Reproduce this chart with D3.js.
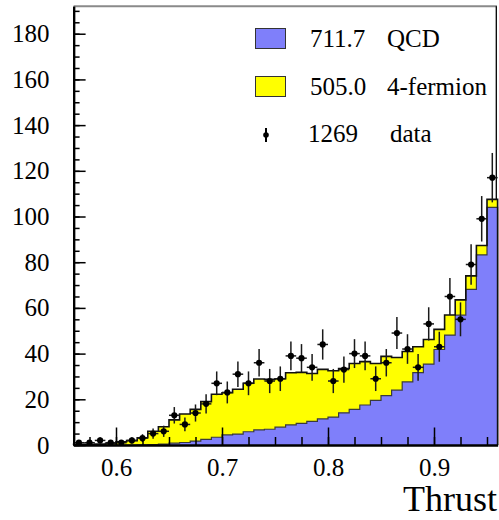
<!DOCTYPE html>
<html>
<head>
<meta charset="utf-8">
<script src="https://cdn.jsdelivr.net/npm/d3@7"></script>
<style>
  html, body { margin: 0; padding: 0; background: #fff; }
  svg { display: block; }
</style>
</head>
<body>
<svg id="chart" width="499" height="520"></svg>
<script>
// Thrust distribution: stacked MC (QCD + 4-fermion) against data, 0.01-wide bins from 0.56 to 0.96
const binStart = 0.56;
const binWidth = 0.01;

// QCD expectation per bin
const qcd = [
  0, 0, 0, 0, 0, 0, 0.1, 0.2, 0.4, 0.8,
  1.1, 1.7, 2.5, 3.4, 4.4, 4.8, 5.8, 6.6, 6.9, 7.8,
  8.8, 9.5, 10.3, 11.4, 12.2, 14.1, 15.6, 17.5, 19.5, 21.6,
  24.0, 27.6, 31.7, 35.4, 41.8, 48.1, 56.8, 68.1, 83.2, 104.0
];

// 4-fermion expectation per bin
const fourFermion = [
  0.3, 0.3, 0.4, 0.6, 1.4, 1.9, 3.1, 5.8, 7.6, 10.2,
  12.5, 13.9, 16.5, 18.8, 18.5, 19.6, 21.2, 22.3, 21.8, 21.2,
  22.8, 22.3, 21.0, 21.7, 20.3, 19.4, 20.1, 19.0, 16.2, 17.2,
  14.3, 13.3, 11.3, 10.8, 8.8, 8.8, 6.7, 5.9, 4.1, 3.5
];

// observed events per bin
const dataCounts = [
  1, 1, 2, 1, 1, 2, 3, 5, 6, 13,
  9, 14, 18, 27, 23, 31, 27, 36, 28, 29,
  39, 38, 34, 44, 28, 33, 40, 39, 29, 36,
  49, 42, 34, 53, 43, 65, 55, 79, 99, 117
];

const xTicksMajor = [0.6, 0.7, 0.8, 0.9];
const xTicksMinor = [0.575, 0.6, 0.625, 0.65, 0.675, 0.7, 0.725, 0.75, 0.775, 0.8,
                     0.825, 0.85, 0.875, 0.9, 0.925, 0.95];
const yTicksMajor = [0, 20, 40, 60, 80, 100, 120, 140, 160, 180];
const yTicksMinor = d3.range(0, 191, 5);

const legendEntries = [
  { kind: "box", color: "#7f7ffa", value: "711.7", label: "QCD" },
  { kind: "box", color: "#ffff00", value: "505.0", label: "4-fermion" },
  { kind: "marker", value: "1269", label: "data" }
];

const serif = "'Liberation Serif', 'Times New Roman', serif";
const blue = "#7f7ffa";
const yellow = "#ffff00";

const svg = d3.select("#chart");

const x = d3.scaleLinear().domain([0.56, 0.96]).range([73.6, 497.6]);
const y = d3.scaleLinear().domain([0, 192]).range([445, 6.3]);

// bins with stacked values
const bins = qcd.map((q, i) => ({
  lo: binStart + i * binWidth,
  hi: binStart + (i + 1) * binWidth,
  qcd: q,
  total: q + fourFermion[i],
  n: dataCounts[i]
}));

// frame (drawn first so the histograms sit on top)
svg.append("line")
  .attr("x1", x(0.56)).attr("x2", 497)
  .attr("y1", y(192)).attr("y2", y(192))
  .attr("stroke", "#8a8a8a").attr("stroke-width", 2);
svg.append("line")
  .attr("x1", 496.3).attr("x2", 496.3)
  .attr("y1", y(192)).attr("y2", y(0))
  .attr("stroke", "#000").attr("stroke-width", 1.3);

// step points for a histogram
function stepPoints(accessor0, accessor1) {
  const pts = [];
  bins.forEach(b => {
    pts.push({ x: b.lo, y0: accessor0(b), y1: accessor1(b) });
    pts.push({ x: b.hi, y0: accessor0(b), y1: accessor1(b) });
  });
  return pts;
}

const area = d3.area()
  .x(d => x(d.x))
  .y0(d => y(d.y0))
  .y1(d => y(d.y1));

function outlinePoints(accessor) {
  const pts = [{ x: bins[0].lo, v: 0 }];
  bins.forEach(b => {
    pts.push({ x: b.lo, v: accessor(b) });
    pts.push({ x: b.hi, v: accessor(b) });
  });
  pts.push({ x: bins[bins.length - 1].hi, v: 0 });
  return pts;
}
const outline = d3.line().x(d => x(d.x)).y(d => y(d.v));

// 4-fermion band stacked on QCD
svg.append("path")
  .attr("d", area(stepPoints(b => b.qcd, b => b.total)))
  .attr("fill", yellow);
// QCD
svg.append("path")
  .attr("d", area(stepPoints(() => 0, b => b.qcd)))
  .attr("fill", blue);

svg.append("path")
  .attr("d", outline(outlinePoints(b => b.qcd)))
  .attr("fill", "none").attr("stroke", "#3a3a3a").attr("stroke-width", 1.2);
svg.append("path")
  .attr("d", outline(outlinePoints(b => b.total)))
  .attr("fill", "none").attr("stroke", "#111").attr("stroke-width", 1.6);

// data with Poisson errors
const pts = svg.append("g");
bins.filter(b => b.n > 0).forEach(b => {
  const cx = x((b.lo + b.hi) / 2);
  const err = Math.sqrt(b.n);
  pts.append("line")
    .attr("x1", cx).attr("x2", cx)
    .attr("y1", y(b.n - err)).attr("y2", y(b.n + err))
    .attr("stroke", "#1a1a1a").attr("stroke-width", 1.5);
  pts.append("line")
    .attr("x1", x(b.lo)).attr("x2", x(b.hi))
    .attr("y1", y(b.n)).attr("y2", y(b.n))
    .attr("stroke", "#1a1a1a").attr("stroke-width", 1.5);
  pts.append("circle")
    .attr("cx", cx).attr("cy", y(b.n)).attr("r", 3.1)
    .attr("fill", "#000");
});

// axes (ticks point into the plot)
const yMinor = svg.append("g").attr("transform", `translate(${x(0.56)},0)`)
  .call(d3.axisLeft(y).tickValues(yTicksMinor).tickSize(-6).tickSizeOuter(0).tickFormat(""));
const yMajor = svg.append("g").attr("transform", `translate(${x(0.56)},0)`)
  .call(d3.axisLeft(y).tickValues(yTicksMajor).tickSize(-12).tickSizeOuter(0).tickPadding(24)
    .tickFormat(d3.format("d")));
const xMinor = svg.append("g").attr("transform", `translate(0,${y(0)})`)
  .call(d3.axisBottom(x).tickValues(xTicksMinor).tickSize(-8).tickSizeOuter(0).tickFormat(""));
const xMajor = svg.append("g").attr("transform", `translate(0,${y(0)})`)
  .call(d3.axisBottom(x).tickValues(xTicksMajor).tickSize(-17.5).tickSizeOuter(0)
    .tickFormat(d3.format(".1f")));

[yMinor, yMajor, xMinor, xMajor].forEach(g => {
  g.attr("font-family", serif).attr("font-size", 25);
  g.selectAll(".tick line").attr("stroke", "#000").attr("stroke-width", 1.5);
  g.select(".domain").attr("stroke", "#000").attr("stroke-width", 2.2);
  g.selectAll("text").attr("fill", "#000");
});
xMajor.selectAll("text").attr("y", 31).attr("dy", 0);

svg.append("text")
  .attr("x", 497).attr("y", 511)
  .attr("text-anchor", "end")
  .attr("font-family", serif).attr("font-size", 36)
  .text("Thrust");

// legend
const rowBaseline = [47, 95, 142];
legendEntries.forEach((e, i) => {
  const base = rowBaseline[i];
  if (e.kind === "box") {
    svg.append("rect")
      .attr("x", 255.5).attr("y", base - 18.5).attr("width", 30).attr("height", 20)
      .attr("fill", e.color).attr("stroke", "#333").attr("stroke-width", 1);
  } else {
    svg.append("line")
      .attr("x1", 266).attr("x2", 266).attr("y1", base - 14).attr("y2", base)
      .attr("stroke", "#000").attr("stroke-width", 2);
    svg.append("circle").attr("cx", 266).attr("cy", base - 7).attr("r", 2.8).attr("fill", "#000");
  }
  svg.append("text")
    .attr("x", i === 2 ? 308 : 310).attr("y", base)
    .attr("font-family", serif).attr("font-size", 25)
    .text(e.value);
  svg.append("text")
    .attr("x", i === 2 ? 390 : 387).attr("y", base)
    .attr("font-family", serif).attr("font-size", 25)
    .text(e.label);
});
</script>
</body>
</html>
